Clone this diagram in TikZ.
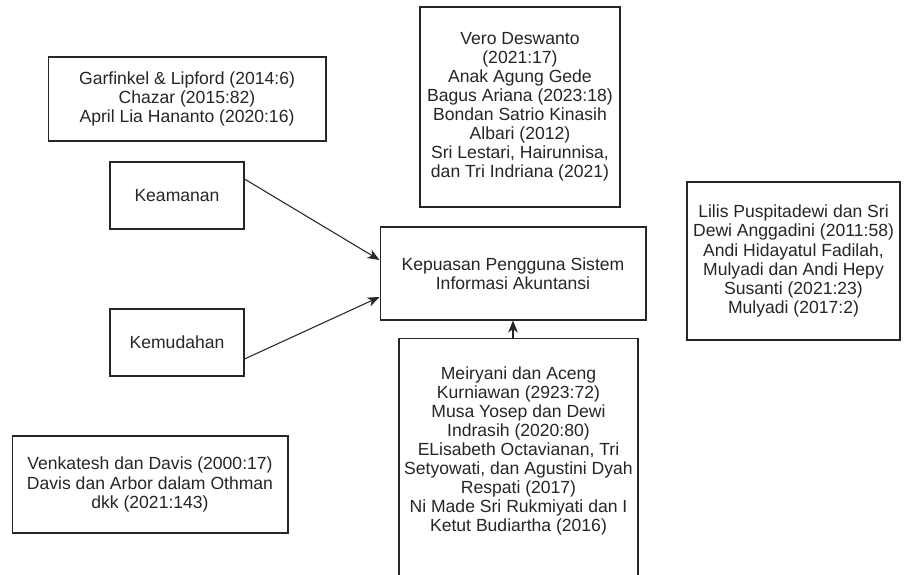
\documentclass[tikz,border=0pt]{standalone}
\usepackage{fontspec}
\setmainfont{Liberation Sans}
\usetikzlibrary{arrows.meta}

\begin{document}
\begin{tikzpicture}[x=0.02cm, y=-0.02cm, font=\fontsize{10pt}{10.85pt}\selectfont,
        line width=0.6pt, color=black!85,
        >={Stealth[length=2.4mm, width=1.9mm, inset=0.7mm]},
        kotak/.style={draw, align=center, inner sep=0pt}]

        % ==========================================
        % 0. Bidang gambar (904 x 575)
        % ==========================================
        \fill[white] (0,0) rectangle (904,575);
        \useasboundingbox (0,0) rectangle (904,575);
        \clip (0,0) rectangle (904,575);

        % ==========================================
        % 1. Variabel X dan Y
        % ==========================================
        \node[kotak, minimum width=2.68cm, minimum height=1.34cm] (keamanan) at (177,195.5) {Keamanan};
        \node[kotak, minimum width=2.68cm, minimum height=1.34cm] (kemudahan) at (177,342.5) {Kemudahan};
        \node[kotak, minimum width=5.32cm, minimum height=1.86cm] (kepuasan) at (513,273.5)
            {Kepuasan Pengguna Sistem\\Informasi Akuntansi};

        % ==========================================
        % 2. Sumber teori
        % ==========================================
        \node[kotak, minimum width=5.56cm, minimum height=1.68cm] (garfinkel) at (187,99)
            {Garfinkel \& Lipford (2014:6)\\Chazar (2015:82)\\April Lia Hananto (2020:16)};
        \node[kotak, minimum width=4cm, minimum height=4cm] (vero) at (520,107)
            {Vero Deswanto\\(2021:17)\\Anak Agung Gede\\Bagus Ariana (2023:18)\\Bondan Satrio Kinasih\\Albari (2012)\\Sri Lestari, Hairunnisa,\\dan Tri Indriana (2021)};
        \node[kotak, minimum width=4.26cm, minimum height=3.16cm] (lilis) at (793.5,261)
            {Lilis Puspitadewi dan Sri\\Dewi Anggadini (2011:58)\\Andi Hidayatul Fadilah,\\Mulyadi dan Andi Hepy\\Susanti (2021:23)\\Mulyadi (2017:2)};
        \node[kotak, minimum width=5.52cm, minimum height=1.94cm] (venkatesh) at (150,484.5)
            {Venkatesh dan Davis (2000:17)\\Davis dan Arbor dalam Othman\\dkk (2021:143)};
        \node[kotak, anchor=north, minimum width=4.78cm, inner ysep=0.56cm, text depth=4cm] (meiryani) at (518.5,338)
            {Meiryani dan Aceng\\Kurniawan (2923:72)\\Musa Yosep dan Dewi\\Indrasih (2020:80)\\ELisabeth Octavianan, Tri\\Setyowati, dan Agustini Dyah\\Respati (2017)\\Ni Made Sri Rukmiyati dan I\\Ketut Budiartha (2016)};

        % ==========================================
        % 3. Panah
        % ==========================================
        \draw[->] ([yshift=0.33cm]keamanan.east) -- ([yshift=0.27cm]kepuasan.west);
        \draw[->] ([yshift=-0.33cm]kemudahan.east) -- ([yshift=-0.47cm]kepuasan.west);
        \draw[->] (meiryani.north -| kepuasan.south) -- (kepuasan.south);

\end{tikzpicture}
\end{document}
